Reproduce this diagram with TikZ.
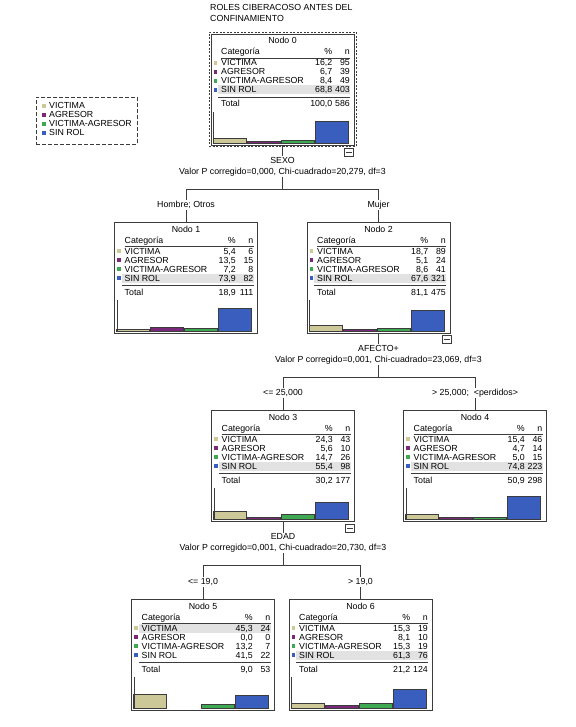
\documentclass[tikz,border=0pt]{standalone}
\usepackage{fontspec}
\setmainfont{Liberation Sans}
\usepackage{tikz}
\usetikzlibrary{calc}

\definecolor{cvictima}{RGB}{204,200,152}
\definecolor{cagresor}{RGB}{122,40,122}
\definecolor{cvicagr}{RGB}{62,168,82}
\definecolor{csinrol}{RGB}{58,94,190}
\definecolor{cfila}{RGB}{226,226,226}
\definecolor{clinea}{RGB}{60,60,60}

\pgfkeys{/pgf/number format/.cd, fixed, fixed zerofill, precision=1, use comma, assume math mode=true}

\tikzset{
  txt/.style={inner sep=0pt, font=\fontsize{8.8}{10}\selectfont},
  etiq/.style={txt, inner sep=1pt},
  nodobox/.style={draw=clinea, line width=0.8pt, minimum width=143pt, minimum height=111pt, anchor=north, inner sep=0pt},
  conector/.style={draw=clinea, line width=0.8pt},
  barra/.style={draw=clinea, line width=0.6pt},
  menos/.style={draw=clinea, line width=0.6pt, minimum width=9pt, minimum height=8pt, inner sep=0pt, anchor=north east,
    path picture={\draw[line width=0.6pt] ([xshift=1.5pt]path picture bounding box.west) -- ([xshift=-1.5pt]path picture bounding box.east);}},
  marco/.style={draw=clinea, line width=0.7pt, dash pattern=on 2pt off 1.5pt},
  leyenda/.style={draw=clinea, line width=0.7pt, dash pattern=on 4pt off 2pt},
}

\begin{document}
\begin{tikzpicture}[x=1pt,y=-1pt]
        \useasboundingbox (0,0) rectangle (575,727);

        % titulo
        \node[txt, anchor=base west] (titulo1) at (210,10.5) {ROLES CIBERACOSO ANTES DEL};
        \node[txt, anchor=base west] (titulo2) at (210,21.5) {CONFINAMIENTO};

        % leyenda
        \node[leyenda, minimum width=101pt, minimum height=47pt, anchor=north west] (ley) at (36,97) {};
        \foreach \k/\cat/\col in {0/VICTIMA/cvictima, 1/AGRESOR/cagresor, 2/VICTIMA-AGRESOR/cvicagr, 3/SIN ROL/csinrol} {
                \fill[\col] (42,104.5+9*\k) rectangle ++(3.5,3.5);
                \node[txt, anchor=base west] (ley\k) at (49,109+9*\k) {\cat};
        }

        % nodos del arbol
        \foreach \nm/\cx/\ty/\nnum/\pA/\cA/\pB/\cB/\pC/\cC/\pD/\cD/\ptot/\ctot/\fila in {
            n0/282.5/34/0/16.2/95/6.7/39/8.4/49/68.8/403/100.0/586/4,
            n1/186/222/1/5.4/6/13.5/15/7.2/8/73.9/82/18.9/111/4,
            n2/378.5/222/2/18.7/89/5.1/24/8.6/41/67.6/321/81.1/475/4,
            n3/283/410/3/24.3/43/5.6/10/14.7/26/55.4/98/30.2/177/4,
            n4/475/410/4/15.4/46/4.7/14/5.0/15/74.8/223/50.9/298/4,
            n5/203/599/5/45.3/24/0.0/0/13.2/7/41.5/22/9.0/53/1,
            n6/360.5/599/6/15.3/19/8.1/10/15.3/19/61.3/76/21.2/124/4} {
                \pgfmathsetmacro\lx{\cx-71.5}
                % fila destacada
                \pgfmathsetmacro\hy{\ty+29+9*(\fila-1)}
                \fill[cfila] (\lx+7,\hy-4.5) rectangle (\lx+139,\hy+4.5);
                % caja y cabecera
                \node[nodobox] (\nm) at (\cx,\ty) {};
                \node[txt, anchor=base] (\nm-tit) at (\cx,\ty+10) {Nodo \nnum};
                \node[txt, anchor=base west] (\nm-cat) at (\lx+10,\ty+21) {Categoría};
                \node[txt, anchor=base east] (\nm-pc) at (\lx+121.5,\ty+21) {\%};
                \node[txt, anchor=base east] (\nm-n) at (\lx+139,\ty+21) {n};
                \draw[conector] (\lx+10,\ty+24) -- (\lx+139,\ty+24);
                % filas y barras
                \foreach \k/\cat/\col/\pr/\cn in {0/VICTIMA/cvictima/\pA/\cA, 1/AGRESOR/cagresor/\pB/\cB,
                    2/VICTIMA-AGRESOR/cvicagr/\pC/\cC, 3/SIN ROL/csinrol/\pD/\cD} {
                        \fill[\col] (\lx+2.5,\ty+27.25+9*\k) rectangle ++(3.5,3.5);
                        \node[txt, anchor=base west] (\nm-c\k) at (\lx+10,\ty+32+9*\k) {\cat};
                        \node[txt, anchor=base east] (\nm-p\k) at (\lx+121.5,\ty+32+9*\k) {\pgfmathprintnumber{\pr}};
                        \node[txt, anchor=base east] (\nm-n\k) at (\lx+139,\ty+32+9*\k) {\cn};
                        \pgfmathsetmacro\bh{\pr*0.31}
                        \ifdim\bh pt>0pt
                            \draw[barra, fill=\col] (\lx+2+34*\k,\ty+109) rectangle ++(33,-\bh);
                        \fi
                }
                % total
                \draw[conector] (\lx+7,\ty+63) -- (\lx+139,\ty+63);
                \node[txt, anchor=base west] (\nm-tot) at (\lx+10,\ty+73) {Total};
                \node[txt, anchor=base east] (\nm-ptot) at (\lx+121.5,\ty+73) {\pgfmathprintnumber{\ptot}};
                \node[txt, anchor=base east] (\nm-ntot) at (\lx+139,\ty+73) {\ctot};
                % eje del grafico
                \draw[conector] (\lx+2.5,\ty+78) -- (\lx+2.5,\ty+109);
        }

        % marco del nodo seleccionado y botones
        \node[marco, minimum width=147pt, minimum height=114pt, anchor=north] (marco0) at (282.5,32) {};
        \node[menos] (m0) at ([shift={(-3,1)}]marco0.south east) {};
        \node[menos] (m2) at ([shift={(1,1)}]n2.south east) {};
        \node[menos] (m3) at ([shift={(0,2)}]n3.south east) {};

        % divisiones
        \foreach \pad/\hi/\hd/\nv/\var/\val/\ti/\td in {
            n0/n1/n2/0/SEXO/{Valor P corregido=0,000, Chi-cuadrado=20,279, df=3}/{Hombre; Otros}/Mujer,
            n2/n3/n4/2/AFECTO+/{Valor P corregido=0,001, Chi-cuadrado=23,069, df=3}/{<= 25,000}/{> 25,000;\ \ <perdidos>},
            n3/n5/n6/3/EDAD/{Valor P corregido=0,001, Chi-cuadrado=20,730, df=3}/{<= 19,0}/{> 19,0}} {
                \node[etiq] (var\nv) at ($(\pad.south)+(0,15)$) {\var};
                \node[etiq] (val\nv) at ($(\pad.south)+(0,26)$) {\val};
                \coordinate (r\nv) at ($(\pad.south)+(0,44)$);
                \node[etiq] (eti\nv) at ($(\hi.north)+(0,-17)$) {\ti};
                \node[etiq] (etd\nv) at ($(\hd.north)+(0,-17)$) {\td};
                \draw[conector] (\pad.south) -- (var\nv);
                \draw[conector] (val\nv) -- (r\nv);
                \draw[conector] (eti\nv) -- (eti\nv |- r\nv) -- (etd\nv |- r\nv) -- (etd\nv);
                \draw[conector] (eti\nv) -- (\hi.north);
                \draw[conector] (etd\nv) -- (\hd.north);
        }
\end{tikzpicture}
\end{document}
